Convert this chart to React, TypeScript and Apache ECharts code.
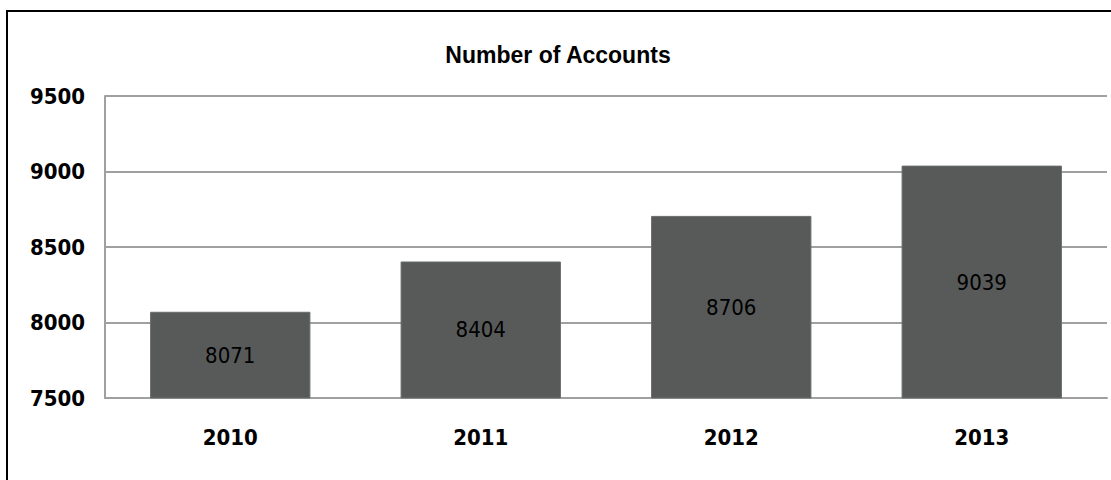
import React, { useEffect, useRef } from "react";
import * as echarts from "echarts";

const years = ["2010", "2011", "2012", "2013"];
const accounts = [8071, 8404, 8706, 9039];
const titleText = "Number of Accounts";

export default function App() {
  const ref = useRef<HTMLDivElement>(null);
  useEffect(() => {
    document.body.style.margin = "0";
    const chart = echarts.init(ref.current!, null, { renderer: "svg" });
    const numFont = "'DejaVu Sans Condensed', 'DejaVu Sans', sans-serif";
    chart.setOption({
      animation: false,
      backgroundColor: "#ffffff",
      title: {
        text: titleText,
        left: 553,
        textAlign: "center",
        top: 38,
        textStyle: {
          fontFamily: "'Liberation Sans', Arial, sans-serif",
          fontWeight: "bold",
          fontSize: 23,
          color: "#000",
        },
      },
      graphic: [
        {
          type: "rect",
          shape: { x: 7, y: 11, width: 1200, height: 600 },
          style: { fill: "none", stroke: "#000", lineWidth: 2 },
          silent: true,
        },
      ],
      grid: { left: 105, right: 4, top: 96, bottom: 82, containLabel: false },
      xAxis: {
        type: "category",
        data: years,
        axisLine: { show: true, lineStyle: { color: "#a0a0a0", width: 2 } },
        axisTick: { show: false },
        axisLabel: {
          margin: 28,
          fontFamily: numFont,
          fontWeight: "bold",
          fontSize: 22,
          color: "#000",
        },
      },
      yAxis: {
        type: "value",
        min: 7500,
        max: 9500,
        interval: 500,
        axisLine: { show: true, lineStyle: { color: "#a0a0a0", width: 2 } },
        axisTick: { show: false },
        splitLine: { show: true, lineStyle: { color: "#a0a0a0", width: 2 } },
        axisLabel: {
          margin: 20,
          formatter: (v: number) => String(v),
          fontFamily: numFont,
          fontWeight: "bold",
          fontSize: 22,
          color: "#000",
        },
      },
      series: [
        {
          type: "bar",
          data: accounts,
          barWidth: "64%",
          itemStyle: { color: "#585a5a", borderColor: "#6a6c6c", borderWidth: 1 },
          label: {
            show: true,
            position: "inside",
            fontFamily: numFont,
            fontSize: 22,
            color: "#000",
          },
        },
      ],
    });
    return () => chart.dispose();
  }, []);
  return (
    <div
      ref={ref}
      style={{ position: "absolute", left: 0, top: 0, width: 1111, height: 480 }}
    />
  );
}
